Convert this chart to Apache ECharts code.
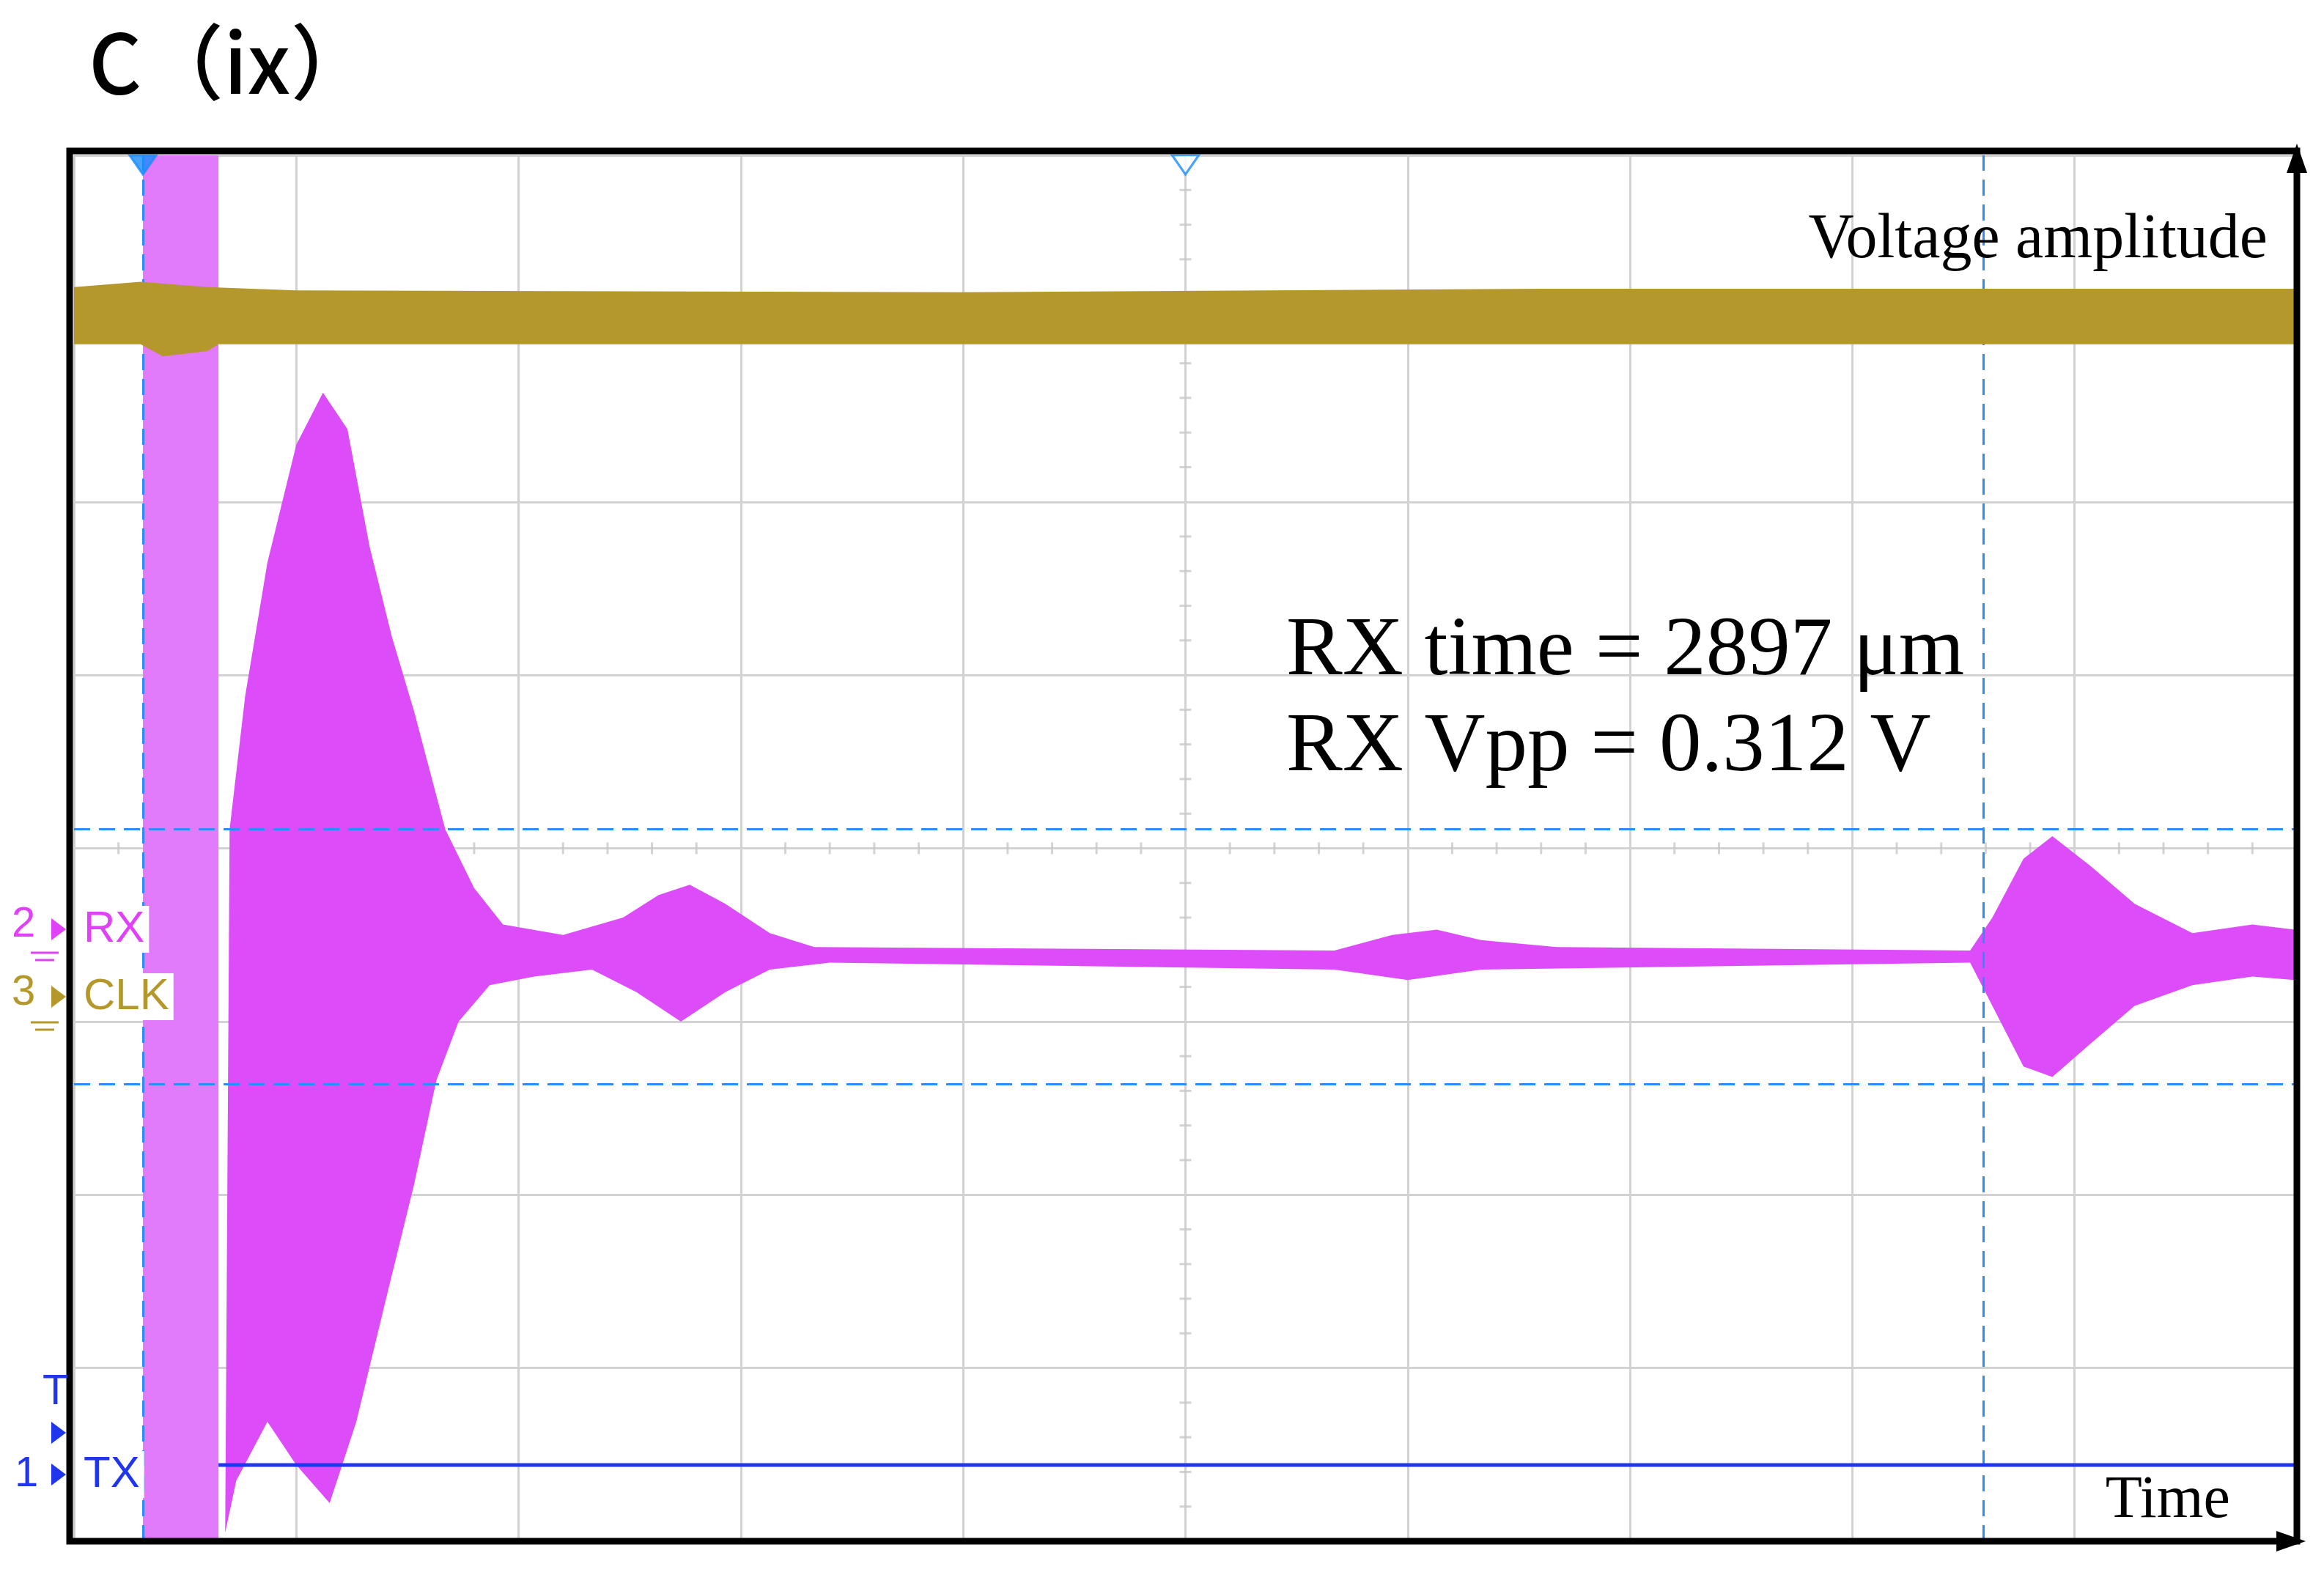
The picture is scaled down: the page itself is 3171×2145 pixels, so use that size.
<!DOCTYPE html>
<html>
<head>
<meta charset="utf-8">
<script src="https://cdn.jsdelivr.net/npm/echarts@6/dist/echarts.min.js"></script>
<style>html,body{margin:0;background:#fff}#c{width:3171px;height:2145px}</style>
</head>
<body>
<div id="c"></div>
<script>
// values in screen divisions: x 0..10, y -4..4
const rxTop = [[0.70,0.11],[0.77,0.88],[0.87,1.65],[1.00,2.33],[1.12,2.63],[1.23,2.42],[1.33,1.74],[1.43,1.22],[1.53,0.79],[1.67,0.11],[1.80,-0.23],[1.93,-0.44],[2.20,-0.50],[2.47,-0.40],[2.63,-0.27],[2.77,-0.21],[2.93,-0.32],[3.13,-0.49],[3.33,-0.57],[5.67,-0.59],[5.93,-0.50],[6.13,-0.47],[6.33,-0.53],[6.67,-0.57],[8.53,-0.59],[8.63,-0.40],[8.77,-0.06],[8.90,0.07],[9.07,-0.10],[9.27,-0.32],[9.53,-0.49],[9.80,-0.44],[9.99,-0.47]];
const rxBottom = [[0.68,-3.95],[0.73,-3.65],[0.87,-3.31],[1.00,-3.56],[1.15,-3.78],[1.27,-3.31],[1.40,-2.62],[1.53,-1.94],[1.63,-1.34],[1.73,-1.00],[1.87,-0.79],[2.07,-0.74],[2.33,-0.70],[2.53,-0.83],[2.73,-1.00],[2.93,-0.83],[3.13,-0.70],[3.40,-0.66],[5.67,-0.70],[6.00,-0.76],[6.33,-0.70],[8.53,-0.66],[8.63,-0.91],[8.77,-1.26],[8.90,-1.32],[9.07,-1.13],[9.27,-0.91],[9.53,-0.79],[9.80,-0.74],[9.99,-0.76]];
const clkTop = [[0,3.24],[0.30,3.27],[0.60,3.24],[1.00,3.22],[4.00,3.21],[6.60,3.23],[10,3.23]];
const clkBottom = [[0,2.91],[0.30,2.91],[0.40,2.84],[0.60,2.87],[0.65,2.91],[10,2.91]];
const txBand = [0.31, 0.65];
const txLevel = -3.56;
const cursorX = [0.31, 8.59];
const cursorY = [0.11, -1.36];

const chart = echarts.init(document.getElementById('c'));

function band(top, bottom, fill, z) {
  return {
    type: 'custom', data: [[0, 0]], z: z, silent: true,
    renderItem: (params, api) => {
      const pts = top.map(p => api.coord(p)).concat(bottom.slice().reverse().map(p => api.coord(p)));
      return { type: 'polygon', shape: { points: pts }, style: { fill: fill } };
    }
  };
}

// minor tick positions on the centre axes
const ticks = [];
for (let i = 0; i <= 50; i++) if (i % 5) ticks.push([i / 5, 0]);
for (let i = -20; i <= 20; i++) if (i % 5) ticks.push([5, i / 5]);

const serif = 'Liberation Serif';
chart.setOption({
  animation: false,
  grid: { left: 101, top: 212, width: 3033, height: 1891 },
  xAxis: { type: 'value', min: 0, max: 10, interval: 1,
    axisLine: { show: false }, axisTick: { show: false }, axisLabel: { show: false },
    splitLine: { lineStyle: { color: '#d2d2d2', width: 3 } } },
  yAxis: { type: 'value', min: -4, max: 4, interval: 1,
    axisLine: { show: false }, axisTick: { show: false }, axisLabel: { show: false },
    splitLine: { lineStyle: { color: '#d2d2d2', width: 3 } } },
  series: [
    { type: 'scatter', silent: true, z: 1, symbol: 'rect', symbolSize: (v) => v[0] === 5 ? [16, 3] : [3, 16],
      itemStyle: { color: '#c8c8c8' }, data: ticks },
    { type: 'custom', data: [[0, 0]], z: 3, silent: true,
      renderItem: (params, api) => {
        const a = api.coord([txBand[0], 4]), b = api.coord([txBand[1], -4]);
        return { type: 'rect', shape: { x: a[0], y: a[1], width: b[0] - a[0], height: b[1] - a[1] }, style: { fill: '#e27bfb' } };
      } },
    band(rxTop, rxBottom, '#dc4cf8', 4),
    band(clkTop, clkBottom, '#b5982b', 5),
    { type: 'line', z: 6, symbol: 'none', silent: true,
      lineStyle: { color: '#1f35ee', width: 5 },
      data: [[txBand[1], txLevel], [10, txLevel]],
      markLine: { silent: true, symbol: 'none', label: { show: false },
        lineStyle: { color: '#2a8cff', width: 3, type: [22, 12] },
        data: cursorX.map(x => ({ xAxis: x })).concat(cursorY.map(y => ({ yAxis: y }))) } },
    { type: 'scatter', z: 7, silent: true, symbol: 'triangle', symbolRotate: 180, symbolSize: [36, 26], symbolOffset: [0, 13],
      itemStyle: { color: '#1a8cff', borderColor: '#1a8cff', borderWidth: 3 },
      data: [{ value: [cursorX[0], 4] }, { value: [5, 4], itemStyle: { color: '#fff' } }] }
  ],
  graphic: [
    { type: 'rect', z: 100, shape: { x: 95, y: 206, width: 3039, height: 1897 }, style: { fill: 'none', stroke: '#000', lineWidth: 9 } },
    { type: 'polygon', z: 100, shape: { points: [[3134, 196], [3120, 236], [3148, 236]] }, style: { fill: '#000' } },
    { type: 'polygon', z: 100, shape: { points: [[3146, 2103], [3106, 2089], [3106, 2117]] }, style: { fill: '#000' } },
    { type: 'text', z: 100, style: { text: 'C（ix）', x: 121, y: 85, verticalAlign: 'middle', font: '500 112px "Noto Sans CJK SC"', fill: '#000' } },
    { type: 'text', z: 100, style: { text: 'Voltage amplitude', x: 3094, y: 328, align: 'right', verticalAlign: 'middle', font: `86px "${serif}"`, fill: '#000' } },
    { type: 'text', z: 100, style: { text: 'RX time = 2897 μm', x: 1755, y: 890, verticalAlign: 'middle', font: `115px "${serif}"`, fill: '#000' } },
    { type: 'text', z: 100, style: { text: 'RX Vpp = 0.312 V', x: 1755, y: 1021, verticalAlign: 'middle', font: `115px "${serif}"`, fill: '#000' } },
    { type: 'text', z: 100, style: { text: 'Time', x: 3043, y: 2048, align: 'right', verticalAlign: 'middle', font: `82px "${serif}"`, fill: '#000' } },
    // channel labels
    { type: 'text', z: 100, style: { text: 'RX', x: 108, y: 1268, verticalAlign: 'middle', font: '60px "Liberation Sans"', fill: '#e040f8', backgroundColor: '#fff', padding: [2, 6] } },
    { type: 'text', z: 100, style: { text: 'CLK', x: 108, y: 1360, verticalAlign: 'middle', font: '60px "Liberation Sans"', fill: '#b5982b', backgroundColor: '#fff', padding: [2, 6] } },
    { type: 'text', z: 100, style: { text: 'TX', x: 108, y: 2012, verticalAlign: 'middle', font: '60px "Liberation Sans"', fill: '#1f35ee', backgroundColor: '#fff', padding: [2, 6] } },
    { type: 'text', z: 100, style: { text: '2', x: 16, y: 1262, verticalAlign: 'middle', font: '58px "Liberation Sans"', fill: '#e040f8' } },
    { type: 'text', z: 100, style: { text: '3', x: 16, y: 1355, verticalAlign: 'middle', font: '58px "Liberation Sans"', fill: '#b5982b' } },
    { type: 'text', z: 100, style: { text: '1', x: 20, y: 2012, verticalAlign: 'middle', font: '58px "Liberation Sans"', fill: '#1f35ee' } },
    { type: 'text', z: 100, style: { text: 'T', x: 58, y: 1900, verticalAlign: 'middle', font: '58px "Liberation Sans"', fill: '#1f35ee' } },
    { type: 'polygon', z: 100, shape: { points: [[90, 1268], [70, 1253], [70, 1283]] }, style: { fill: '#e040f8' } },
    { type: 'polygon', z: 100, shape: { points: [[90, 1360], [70, 1345], [70, 1375]] }, style: { fill: '#b5982b' } },
    { type: 'polygon', z: 100, shape: { points: [[90, 2012], [70, 1997], [70, 2027]] }, style: { fill: '#1f35ee' } },
    { type: 'polygon', z: 100, shape: { points: [[90, 1955], [70, 1940], [70, 1970]] }, style: { fill: '#1f35ee' } },
    { type: 'polyline', z: 100, shape: { points: [[42, 1300], [80, 1300]] }, style: { stroke: '#e040f8', lineWidth: 3 } },
    { type: 'polyline', z: 100, shape: { points: [[48, 1310], [74, 1310]] }, style: { stroke: '#e040f8', lineWidth: 3 } },
    { type: 'polyline', z: 100, shape: { points: [[42, 1395], [80, 1395]] }, style: { stroke: '#b5982b', lineWidth: 3 } },
    { type: 'polyline', z: 100, shape: { points: [[48, 1405], [74, 1405]] }, style: { stroke: '#b5982b', lineWidth: 3 } }
  ]
});
</script>
</body>
</html>
